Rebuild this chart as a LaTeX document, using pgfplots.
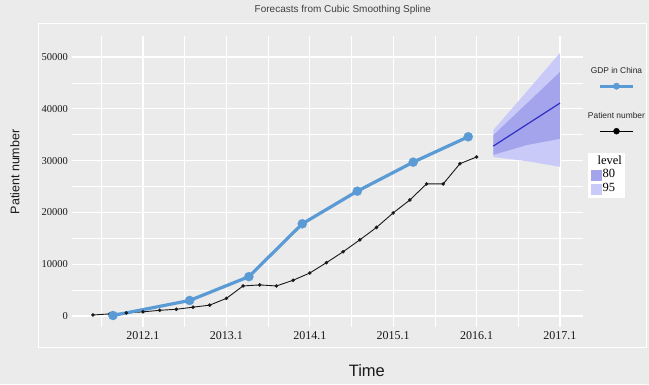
\documentclass[border=0pt]{standalone}
\usepackage{pgfplots}
\pgfplotsset{compat=1.18}
\usepackage{fontspec}
\setmainfont{Liberation Sans}
\newfontfamily\seriffont{Liberation Serif}
\definecolor{bg}{HTML}{EBEBEB}
\definecolor{gdp}{RGB}{91,155,213}
\definecolor{bandA}{RGB}{202,202,248}
\definecolor{bandB}{RGB}{164,164,236}
\definecolor{meanline}{RGB}{48,48,196}
\begin{document}
\begin{tikzpicture}[x=1pt,y=1pt]
\fill[bg] (0,0) rectangle (649,384);
\draw[white, line width=0.9pt] (38,37) rectangle (646,361);
\begin{axis}[at={(72pt,57pt)}, anchor=south west, scale only axis,
  width=511pt, height=291pt,
  xmin=2011.149, xmax=2017.276, ymin=-2124, ymax=54054,
  axis background/.style={fill=bg}, axis line style={draw=none},
  major tick length=0pt, minor tick length=0pt,
  xtick={2012,2013,2014,2015,2016,2017},
  xticklabels={2012.1,2013.1,2014.1,2015.1,2016.1,2017.1},
  minor xtick={2011.5,2012.5,2013.5,2014.5,2015.5,2016.5},
  ytick={0,10000,20000,30000,40000,50000},
  minor ytick={5000,15000,25000,35000,45000},
  grid=both, major grid style={white, line width=1.1pt},
  minor grid style={white, line width=0.6pt},
  scaled y ticks=false,
  /pgf/number format/assume math mode=true,
  yticklabel style={/pgf/number format/1000 sep={}, font=\seriffont\fontsize{10.5}{12}\selectfont, inner sep=0pt, xshift=-4pt, color=black!90},
  xticklabel style={font=\seriffont\fontsize{12}{14}\selectfont, inner sep=0pt, yshift=-4pt, color=black!90},
  title={Forecasts from Cubic Smoothing Spline},
  title style={at={(axis description cs:0.530,1.068)}, anchor=center, font=\fontsize{10}{12}\selectfont, color=black!75},
  xlabel={Time},
  xlabel style={at={(axis description cs:0.577,-0.151)}, anchor=center, font=\fontsize{16.5}{18}\selectfont, color=black!90},
  ylabel={Patient number},
  ylabel style={at={(axis description cs:-0.1115,0.533)}, anchor=center, rotate=0, font=\fontsize{12.5}{14}\selectfont, color=black!90},
  legend style={draw=none, fill=none, at={(axis description cs:1.0665,0.9055)}, anchor=north,
    inner sep=0pt, row sep=0pt, column sep=0pt,
    nodes={inner sep=0pt, text height=10pt, text depth=5pt}},
]
% forecast bands
\addplot[fill=bandA, draw=none, forget plot] coordinates {
 (2016.2,35900) (2016.6,43300) (2017.0,50800) (2017.0,28800) (2016.6,29900) (2016.2,30700)} -- cycle;
\addplot[fill=bandB, draw=none, forget plot] coordinates {
 (2016.2,34900) (2016.6,41000) (2017.0,47100) (2017.0,34200) (2016.6,33000) (2016.2,31100)} -- cycle;
\addplot[meanline, line width=1.2pt, forget plot] coordinates {(2016.2,32800) (2017.0,41100)};
% patient number
\addplot[black!90, line width=0.9pt, mark=*, mark size=1.7pt, mark options={line width=0.2pt}, forget plot] coordinates {
 (2011.4,200) (2011.6,400) (2011.8,600) (2012.0,800) (2012.2,1100) (2012.4,1300)
 (2012.6,1700) (2012.8,2100) (2013.0,3400) (2013.2,5800) (2013.4,6000) (2013.6,5800)
 (2013.8,6900) (2014.0,8300) (2014.2,10300) (2014.4,12400) (2014.6,14700) (2014.8,17100)
 (2015.0,19900) (2015.2,22400) (2015.4,25500) (2015.6,25500) (2015.8,29400) (2016.0,30700)};
% GDP in China
\addplot[gdp, line width=3.2pt, mark=*, mark size=4.6pt, mark options={line width=0.2pt}, forget plot] coordinates {
 (2011.64,100) (2012.56,3000) (2013.27,7600) (2013.91,17800) (2014.57,24100) (2015.24,29700) (2015.90,34600)};
% legend
\addlegendimage{legend image code/.code={\node[font=\fontsize{8.4}{10}\selectfont, color=black!85, inner sep=0pt] at (0,0) {GDP in China};}}
\addlegendentry{\mbox{}}
\addlegendimage{legend image code/.code={\draw[gdp, line width=3pt] (-16.5pt,0) -- (16.5pt,0); \fill[gdp] (0,0) circle (3.2pt);}}
\addlegendentry{\mbox{}}
\addlegendimage{legend image code/.code={}}
\addlegendentry{\mbox{}}
\addlegendimage{legend image code/.code={\node[font=\fontsize{8.4}{10}\selectfont, color=black!85, inner sep=0pt] at (0,0) {Patient number};}}
\addlegendentry{\mbox{}}
\addlegendimage{legend image code/.code={\draw[black, line width=1.2pt] (-16.5pt,0) -- (16.5pt,0); \fill[black] (0,0) circle (3pt);}}
\addlegendentry{\mbox{}}
\end{axis}
\begin{axis}[at={(72pt,57pt)}, anchor=south west, scale only axis,
  width=511pt, height=291pt, hide axis, xmin=0, xmax=1, ymin=0, ymax=1,
  legend style={draw=none, fill=white, at={(axis description cs:1.0098,0.598)}, anchor=north west,
    inner xsep=3pt, inner ysep=2pt, row sep=0pt, column sep=1pt,
    font=\seriffont\fontsize{12.5}{14}\selectfont,
    nodes={inner sep=0pt, text height=9pt, text depth=4.5pt, anchor=west}, cells={anchor=west}},
]
\addlegendimage{legend image code/.code={}}
\addlegendentry{\hspace*{-5pt}level}
\addlegendimage{legend image code/.code={\fill[bandB] (0pt,-5pt) rectangle (10pt,5pt);}}
\addlegendentry{80}
\addlegendimage{legend image code/.code={\fill[bandA] (0pt,-5pt) rectangle (10pt,5pt);}}
\addlegendentry{95}
\end{axis}
\pgfresetboundingbox
\useasboundingbox (0,0) rectangle (649,384);
\end{tikzpicture}
\end{document}
